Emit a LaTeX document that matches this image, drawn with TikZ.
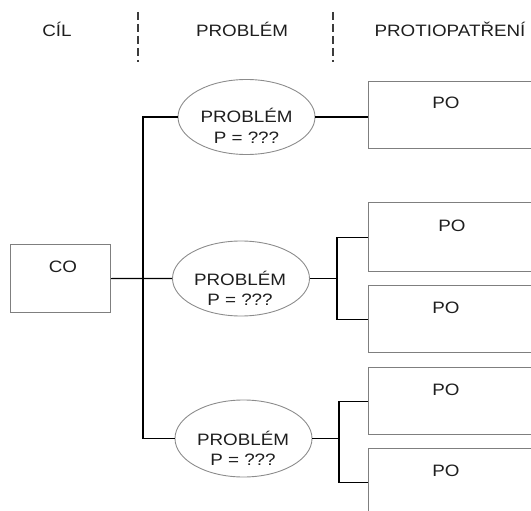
\documentclass[tikz,border=0pt]{standalone}
\usepackage{fontspec}
\setmainfont{Liberation Sans}[FakeStretch=1.14]
\usetikzlibrary{shapes.geometric}

\definecolor{frame}{HTML}{7F7F7F}
\definecolor{oval}{HTML}{8C8C8C}
\definecolor{ink}{HTML}{1E1E1E}
\definecolor{sep}{HTML}{3C3C3C}

\begin{document}
\begin{tikzpicture}[x=1pt,y=-1pt,
  every node/.style={font=\fontsize{16.5}{20}\selectfont, text=ink},
  lbl/.style={anchor=base, inner sep=0pt},
  box/.style={draw=frame, line width=1.1pt, rectangle, inner sep=0pt,
              anchor=north west, minimum width=200pt},
  problem/.style={draw=oval, line width=0.9pt, ellipse, inner sep=0pt,
                  minimum width=137pt, minimum height=75pt},
  conn/.style={draw=black, line width=1.1pt},
  divider/.style={draw=sep, line width=1.6pt, dash pattern=on 8pt off 4pt}
]
\useasboundingbox (0,0) rectangle (531,511);
\clip (0,0) rectangle (531,511);

% column headings and dividers
\node[lbl] (hgoal) at (57,37) {CÍL};
\node[lbl] (hprob) at (242,37) {PROBLÉM};
\node[lbl] (hcm)   at (450,37) {PROTIOPATŘENÍ};
\draw[divider] (138,12) -- (138,62);
\draw[divider] (333,12) -- (333,62);

% goal
\node[box, minimum width=100pt, minimum height=68pt] (co) at (10,244) {};
\node[lbl] (tco) at (63,272) {CO};

% problems
\node[problem] (e1) at (246.5,117) {};
\node[problem] (e2) at (241,278.5) {};
\node[problem, minimum height=77pt] (e3) at (243.5,438.5) {};
\foreach \e/\x/\y in {e1/246.5/123, e2/240/285, e3/243/445}{
  \node[lbl] (\e a) at (\x,\y) {PROBLÉM};
  \node[lbl] (\e b) at (\x,\y+20) {P = ???};
}

% countermeasures
\node[box, minimum height=67pt] (b1) at (368,81) {};
\node[box, minimum height=69pt] (b2) at (368,202) {};
\node[box, minimum height=67pt] (b3) at (368,285) {};
\node[box, minimum height=67pt] (b4) at (368,367) {};
\node[box, minimum height=68pt] (b5) at (368,448) {};
\node[lbl] (t1) at (446,109) {PO};
\node[lbl] (t2) at (452,231) {PO};
\node[lbl] (t3) at (446,313) {PO};
\node[lbl] (t4) at (446,395) {PO};
\node[lbl] (t5) at (446,476) {PO};

% connectors
\coordinate (trunk) at (143,0);
\coordinate (k2) at (337,0);
\coordinate (k3) at (339,0);
\draw[conn] (co.east) -- (e2.west);
\draw[conn] (e1.west) -- (e1.west -| trunk) -- (e3.west -| trunk) -- (e3.west);
\draw[conn] (e1.east) -- (e1.east -| b1.west);
\draw[conn] (e2.east) -- (e2.east -| k2);
\draw[conn] (b2.west) -- (b2.west -| k2) -- (b3.west -| k2) -- (b3.west);
\draw[conn] (e3.east) -- (e3.east -| k3);
\draw[conn] (b4.west) -- (b4.west -| k3) -- (b5.west -| k3) -- (b5.west);
\end{tikzpicture}
\end{document}
